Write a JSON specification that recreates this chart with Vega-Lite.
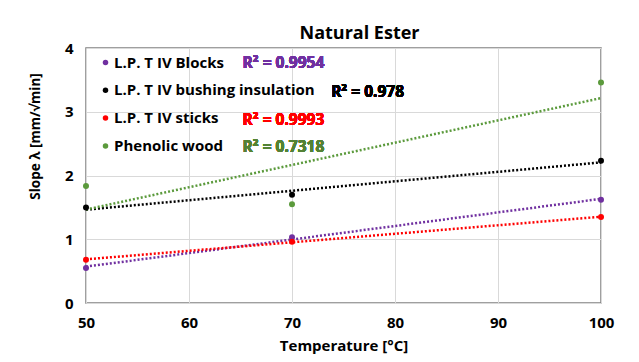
{
  "$schema": "https://vega.github.io/schema/vega-lite/v6.json",
  "width": 515,
  "height": 255,
  "autosize": "none",
  "padding": {"left": 86, "top": 48, "right": 38, "bottom": 59},
  "background": "white",
  "title": {"text": "Natural Ester", "font": "Open Sans", "fontSize": 18, "fontWeight": "bold", "color": "#000000", "anchor": "middle", "dx": 16, "offset": -2},
  "config": {
    "view": {"stroke": "#808080", "strokeWidth": 1.5},
    "axis": {"labelFont": "Open Sans", "labelFontWeight": "bold", "labelColor": "#000000", "titleFont": "Open Sans", "titleFontWeight": "bold", "titleColor": "#000000", "gridColor": "#d9d9d9", "gridWidth": 1, "domain": false, "ticks": false, "labelFlush": false}
  },
  "datasets": {
    "pts": [
      {"series": "L.P. T IV Blocks", "T": 50, "slope": 0.55},
      {"series": "L.P. T IV Blocks", "T": 70, "slope": 1.03},
      {"series": "L.P. T IV Blocks", "T": 100, "slope": 1.62},
      {"series": "L.P. T IV bushing insulation", "T": 50, "slope": 1.50},
      {"series": "L.P. T IV bushing insulation", "T": 70, "slope": 1.70},
      {"series": "L.P. T IV bushing insulation", "T": 100, "slope": 2.23},
      {"series": "L.P. T IV sticks", "T": 50, "slope": 0.68},
      {"series": "L.P. T IV sticks", "T": 70, "slope": 0.96},
      {"series": "L.P. T IV sticks", "T": 100, "slope": 1.35},
      {"series": "Phenolic wood", "T": 50, "slope": 1.835},
      {"series": "Phenolic wood", "T": 70, "slope": 1.55},
      {"series": "Phenolic wood", "T": 100, "slope": 3.46}
    ]
  },
  "data": {"name": "pts"},
  "layer": [
    {
      "transform": [{"regression": "slope", "on": "T", "groupby": ["series"], "extent": [50, 100]}],
      "mark": {"type": "line", "strokeDash": [2, 2], "strokeWidth": 2.5},
      "encoding": {
        "x": {"field": "T", "type": "quantitative"},
        "y": {"field": "slope", "type": "quantitative"},
        "color": {"field": "series", "type": "nominal"}
      }
    },
    {
      "mark": {"type": "circle", "size": 36, "opacity": 1},
      "encoding": {
        "x": {"field": "T", "type": "quantitative", "scale": {"domain": [50, 100], "nice": false, "zero": false},
              "axis": {"values": [50, 60, 70, 80, 90, 100], "labelFontSize": 15, "labelPadding": 12, "title": "Temperature [°C]", "titleFontSize": 15, "titlePadding": 8}},
        "y": {"field": "slope", "type": "quantitative", "scale": {"domain": [0, 4], "nice": false},
              "axis": {"values": [0, 1, 2, 3, 4], "format": "d", "labelFontSize": 15, "labelPadding": 13, "title": "Slope λ [mm/√min]", "titleFontSize": 13.5, "titleX": -51, "titleY": 88, "titleAlign": "center", "titleBaseline": "middle", "titleAngle": -90}},
        "color": {"field": "series", "type": "nominal",
                  "scale": {"domain": ["L.P. T IV Blocks", "L.P. T IV bushing insulation", "L.P. T IV sticks", "Phenolic wood"], "range": ["#7030A0", "#000000", "#FF0000", "#5B9A3C"]},
                  "legend": {"orient": "none", "legendX": 12, "legendY": 7, "title": null, "padding": 0, "symbolType": "circle", "symbolSize": 30, "symbolStrokeWidth": 0, "symbolOpacity": 1, "labelFont": "Open Sans", "labelFontSize": 15, "labelFontWeight": "bold", "labelColor": "#000000", "labelLimit": 400, "labelOffset": 1, "rowPadding": 11.8}}
      }
    },
    {
      "mark": {"type": "text", "align": "left", "baseline": "middle", "font": "Open Sans", "fontSize": 15.5, "fontWeight": "bold", "color": "#7030A0", "text": "R² = 0.9954"},
      "encoding": {"x": {"datum": 65.2, "type": "quantitative"}, "y": {"datum": 3.765, "type": "quantitative"}}
    },
    {
      "mark": {"type": "text", "align": "left", "baseline": "middle", "font": "Open Sans", "fontSize": 15.5, "fontWeight": "bold", "color": "#000000", "text": "R² = 0.978"},
      "encoding": {"x": {"datum": 73.8, "type": "quantitative"}, "y": {"datum": 3.31, "type": "quantitative"}}
    },
    {
      "mark": {"type": "text", "align": "left", "baseline": "middle", "font": "Open Sans", "fontSize": 15.5, "fontWeight": "bold", "color": "#FF0000", "text": "R² = 0.9993"},
      "encoding": {"x": {"datum": 65.2, "type": "quantitative"}, "y": {"datum": 2.87, "type": "quantitative"}}
    },
    {
      "mark": {"type": "text", "align": "left", "baseline": "middle", "font": "Open Sans", "fontSize": 15.5, "fontWeight": "bold", "color": "#548235", "text": "R² = 0.7318"},
      "encoding": {"x": {"datum": 65.2, "type": "quantitative"}, "y": {"datum": 2.447, "type": "quantitative"}}
    }
  ]
}
